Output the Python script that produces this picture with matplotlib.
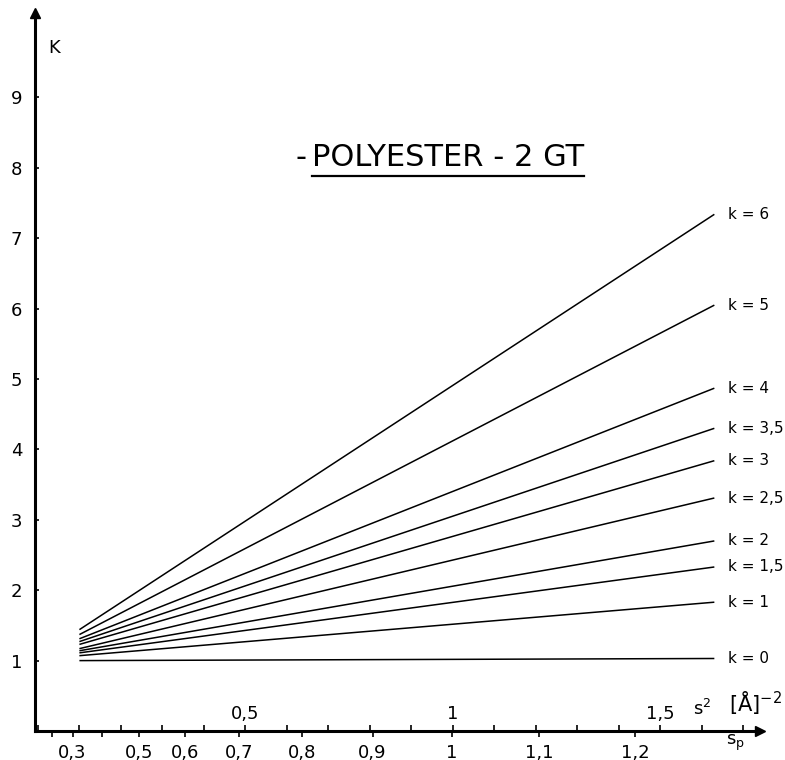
"""K versus s^2 curves for polyester 2GT, one line per k value."""

import matplotlib

matplotlib.use("Agg")
import matplotlib.pyplot as plt
import numpy as np
from matplotlib.lines import Line2D
from matplotlib.ticker import FixedLocator, MultipleLocator

plt.rcParams["font.family"] = ["DejaVu Sans"]

# data (x in s^2, y in K)
K_VALUES = ["0", "1", "1,5", "2", "2,5", "3", "3,5", "4", "5", "6"]
S2_START = 0.10
S2_END = 1.63
K_START = [1.00, 1.07, 1.11, 1.14, 1.17, 1.23, 1.27, 1.31, 1.37, 1.44]
K_END = [1.03, 1.83, 2.33, 2.70, 3.31, 3.84, 4.30, 4.87, 6.05, 7.34]

S2_TICKS = [0.5, 1.0, 1.5]
S2_TICKLABELS = ["0,5", "1", "1,5"]
SP_TICKS = [0.2, 0.3, 0.4, 0.5, 0.6, 0.7, 0.8, 0.9, 1.0, 1.1, 1.2]
SP_TICKLABELS = ["", "0,3", "", "0,5", "0,6", "0,7", "0,8", "0,9", "1", "1,1", "1,2"]
Y_TICKS = [1, 2, 3, 4, 5, 6, 7, 8, 9]

fig = plt.figure(figsize=(7.85, 7.6), dpi=100)
ax = fig.add_axes([35 / 785, 29 / 760, 725 / 785, 718 / 760])
ax.set_xlim(-0.007, 1.74)
ax.set_ylim(0, 10.2)

for label, k0, k1 in zip(K_VALUES, K_START, K_END):
    ax.plot([S2_START, S2_END], [k0, k1], color="black", lw=1.1,
            solid_capstyle="butt")
    ax.text(S2_END + 0.033, k1, f"k = {label}", fontsize=11,
            ha="left", va="center", clip_on=False)

# axes: only left and bottom, thick, with arrowheads
for side in ("top", "right"):
    ax.spines[side].set_visible(False)
for side in ("left", "bottom"):
    ax.spines[side].set_linewidth(2.2)
ax.plot(1, 0, ">", color="black", ms=7, transform=ax.transAxes, clip_on=False)
ax.plot(0, 1, "^", color="black", ms=7, transform=ax.transAxes, clip_on=False)

ax.yaxis.set_major_locator(FixedLocator(Y_TICKS))
ax.set_yticklabels([str(v) for v in Y_TICKS])
ax.tick_params(axis="y", direction="in", length=3, width=1.2, pad=9,
               labelsize=13)

# s^2 scale: ticks pointing up, labels above the axis line
ax.set_xticks(S2_TICKS, S2_TICKLABELS)
ax.xaxis.set_minor_locator(MultipleLocator(0.1))
ax.tick_params(axis="x", which="both", direction="in", length=4, width=1.2,
               pad=-19, labelsize=13)

# s_p scale (s_p = sqrt(s^2)): ticks pointing down, labels below
sec = ax.secondary_xaxis(
    "bottom",
    functions=(lambda s2: np.sqrt(np.clip(s2, 0, None)), lambda sp: sp ** 2),
)
sec.spines["bottom"].set_visible(False)
sec.set_xticks(SP_TICKS, SP_TICKLABELS)
sec.xaxis.set_minor_locator(FixedLocator([]))
sec.tick_params(axis="x", direction="out", length=4, width=1.2, pad=5,
                labelsize=13)

ax.text(0.04, 9.7, "K", fontsize=13, ha="center", va="center")
ax.text(1.60, 0.31, "s$^2$", fontsize=13, ha="center", va="center")
ax.text(1.665, 0.40, r"$[\mathrm{\AA}]^{-2}$", fontsize=15,
        ha="left", va="center")
ax.text(1.68, -0.17, r"s$_\mathrm{p}$", fontsize=13, ha="center",
        va="center", clip_on=False)

# title with underline (the underline starts after the leading dash)
title = ax.text(0.66, 8.15, "POLYESTER - 2 GT", fontsize=22,
                ha="left", va="center")
ax.text(0.648, 8.15, "-", fontsize=22, ha="right", va="center")
fig.canvas.draw()
bb = title.get_window_extent().transformed(fig.transFigure.inverted())
uy = bb.y0 - 0.006
fig.add_artist(Line2D([bb.x0, bb.x1], [uy, uy], color="black", lw=1.6))

fig.savefig("out.png", dpi=100)
